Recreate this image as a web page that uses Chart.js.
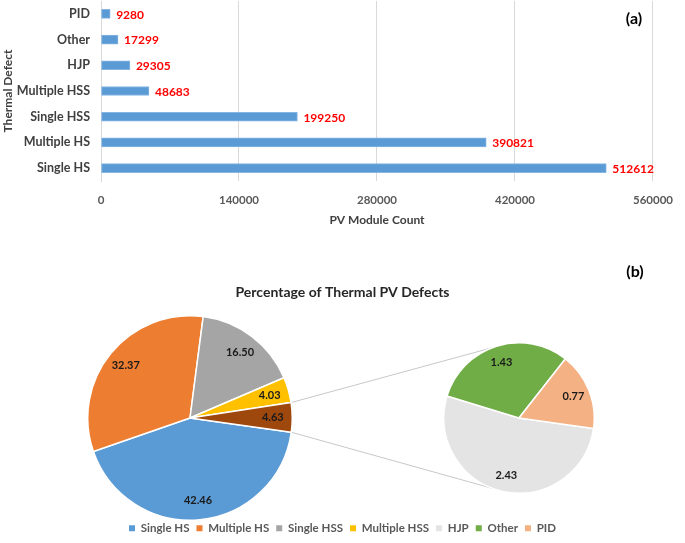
<!DOCTYPE html>
<html>
<head>
<meta charset="utf-8">
<script src="https://cdn.jsdelivr.net/npm/chart.js@4/dist/chart.umd.min.js"></script>
<style>
    html, body { margin: 0; padding: 0; background: #fff; width: 685px; height: 543px; overflow: hidden; }
    canvas { position: absolute; }
    .tag { position: absolute; font: bold 16px Lato, sans-serif; color: #000; transform: translate(-50%, -50%); }
</style>
</head>
<body>
<canvas id="barChart" width="685" height="235" style="left:0;top:0"></canvas>
<canvas id="frameChart" width="685" height="309" style="left:0;top:235px"></canvas>
<canvas id="mainPie" width="206" height="206" style="left:87px;top:315px"></canvas>
<canvas id="subPie" width="152" height="152" style="left:443px;top:342px"></canvas>
<div class="tag" style="left:634px;top:17px">(a)</div>
<div class="tag" style="left:635px;top:270px">(b)</div>

<script>
// Daten aus der Abbildung
const defects = ['Single HS', 'Multiple HS', 'Single HSS', 'Multiple HSS', 'HJP', 'Other', 'PID'];
const moduleCounts = [512612, 390821, 199250, 48683, 29305, 17299, 9280];
const percentShares = [42.46, 32.37, 16.50, 4.03, 2.43, 1.43, 0.77];
const countTicks = [0, 140000, 280000, 420000, 560000];

// Farben
const sliceColors = ['#5B9BD5', '#ED7D31', '#A5A5A5', '#FFC000', '#E4E4E4', '#70AD47', '#F4B183'];
const groupColor = '#9E480E';

const FONT = 'Lato';

// Werte rechts neben den Balken
const barValueLabels = {
    id: 'barValueLabels',
    afterDatasetsDraw(chart) {
        const ctx = chart.ctx;
        const meta = chart.getDatasetMeta(0);
        ctx.save();
        ctx.font = 'bold 12px ' + FONT;
        ctx.fillStyle = '#FF0000';
        ctx.textAlign = 'left';
        ctx.textBaseline = 'middle';
        meta.data.forEach((bar, i) => {
            ctx.fillText(String(moduleCounts[i]), bar.x + 6, bar.y + 1);
        });
        ctx.restore();
    }
};

// Werte in den Tortenstücken
const sliceValueLabels = {
    id: 'sliceValueLabels',
    afterDatasetsDraw(chart, args, opts) {
        const ctx = chart.ctx;
        const meta = chart.getDatasetMeta(0);
        const values = chart.data.datasets[0].data;
        ctx.save();
        ctx.font = 'bold 11px ' + FONT;
        ctx.fillStyle = '#1a1a1a';
        ctx.textAlign = 'center';
        ctx.textBaseline = 'middle';
        meta.data.forEach((arc, i) => {
            const mid = (arc.startAngle + arc.endAngle) / 2;
            const r = arc.outerRadius * opts.ratio;
            ctx.fillText(values[i].toFixed(2), arc.x + r * Math.cos(mid), arc.y + r * Math.sin(mid));
        });
        ctx.restore();
    }
};

// (a) Balkendiagramm
new Chart(document.getElementById('barChart'), {
    type: 'bar',
    data: {
        labels: defects,
        datasets: [{
            data: moduleCounts,
            backgroundColor: '#5B9BD5',
            borderColor: '#86B5E2',
            borderWidth: 1,
            borderSkipped: false,
            barThickness: 9
        }]
    },
    options: {
        indexAxis: 'y',
        responsive: false,
        animation: false,
        layout: { padding: { top: 1, right: 21, left: 0, bottom: 0 } },
        plugins: { legend: { display: false }, tooltip: { enabled: false } },
        scales: {
            x: {
                min: 0,
                max: 560000,
                afterBuildTicks: s => { s.ticks = countTicks.map(v => ({ value: v })); },
                afterFit: s => { s.height = 54; },
                grid: { color: '#D9D9D9', drawTicks: false },
                border: { display: false },
                ticks: {
                    padding: 12,
                    maxRotation: 0,
                    autoSkip: false,
                    color: '#595959',
                    font: { family: FONT, weight: 'bold', size: 11.5 },
                    callback: v => String(v)
                },
                title: {
                    display: true,
                    text: 'PV Module Count',
                    color: '#404040',
                    font: { family: FONT, weight: 'bold', size: 12 },
                    padding: { top: 0, bottom: 8 }
                }
            },
            y: {
                reverse: true,
                afterFit: s => { s.width = 101; s.paddingTop = 0; s.paddingBottom = 0; },
                grid: { display: false, drawTicks: false },
                border: { display: true, color: '#D9D9D9' },
                ticks: {
                    padding: 11,
                    color: '#404040',
                    font: { family: FONT, weight: 'bold', size: 12.5 }
                },
                title: {
                    display: true,
                    text: 'Thermal Defect',
                    color: '#404040',
                    font: { family: FONT, weight: 'bold', size: 12 },
                    padding: { top: 1, bottom: 0 }
                }
            }
        }
    },
    plugins: [barValueLabels]
});

// (b) Hauptkreis: die drei kleinsten Gruppen werden zusammengefasst
const minorShares = percentShares.slice(4);
const groupShare = minorShares.reduce((a, b) => a + b, 0);

const mainPie = new Chart(document.getElementById('mainPie'), {
    type: 'pie',
    data: {
        labels: defects.slice(0, 4).concat('HJP + Other + PID'),
        datasets: [{
            data: percentShares.slice(0, 4).concat(groupShare),
            backgroundColor: sliceColors.slice(0, 4).concat(groupColor),
            borderColor: '#fff',
            borderWidth: 1.5
        }]
    },
    options: {
        responsive: false,
        animation: false,
        rotation: 98,
        layout: { padding: 0 },
        plugins: { legend: { display: false }, tooltip: { enabled: false }, sliceValueLabels: { ratio: 0.81 } }
    },
    plugins: [sliceValueLabels]
});

// Nebenkreis
const subPie = new Chart(document.getElementById('subPie'), {
    type: 'pie',
    data: {
        labels: defects.slice(4),
        datasets: [{
            data: minorShares,
            backgroundColor: sliceColors.slice(4),
            borderColor: '#fff',
            borderWidth: 1.5
        }]
    },
    options: {
        responsive: false,
        animation: false,
        rotation: 98,
        layout: { padding: 0 },
        plugins: { legend: { display: false }, tooltip: { enabled: false }, sliceValueLabels: { ratio: 0.78 } }
    },
    plugins: [sliceValueLabels]
});

// Verbindungslinien zwischen den beiden Kreisen
const connectorLines = {
    id: 'connectorLines',
    afterDraw(chart) {
        const ctx = chart.ctx;
        const frame = chart.canvas.getBoundingClientRect();
        const mainBox = mainPie.canvas.getBoundingClientRect();
        const subBox = subPie.canvas.getBoundingClientRect();
        const group = mainPie.getDatasetMeta(0).data[4];
        const sub = subPie.getDatasetMeta(0).data[0];
        const endAngle = 111 * Math.PI / 180;
        const pairs = [
            [group.startAngle, -endAngle],
            [group.endAngle, endAngle]
        ];
        ctx.save();
        ctx.strokeStyle = '#C8C8C8';
        ctx.lineWidth = 1;
        pairs.forEach(([a, b]) => {
            const x1 = mainBox.left - frame.left + group.x + group.outerRadius * Math.cos(a);
            const y1 = mainBox.top - frame.top + group.y + group.outerRadius * Math.sin(a);
            const x2 = subBox.left - frame.left + sub.x + sub.outerRadius * Math.cos(b);
            const y2 = subBox.top - frame.top + sub.y + sub.outerRadius * Math.sin(b);
            ctx.beginPath();
            ctx.moveTo(x1, y1);
            ctx.lineTo(x2, y2);
            ctx.stroke();
        });
        ctx.restore();
    }
};

// Rahmen mit Titel und Legende
new Chart(document.getElementById('frameChart'), {
    type: 'pie',
    data: { labels: defects, datasets: [{ data: [] }] },
    options: {
        responsive: false,
        animation: false,
        layout: { padding: 0 },
        plugins: {
            tooltip: { enabled: false },
            title: {
                display: true,
                text: 'Percentage of Thermal PV Defects',
                color: '#262626',
                font: { family: FONT, weight: 'bold', size: 14 },
                padding: { top: 49, bottom: 0 }
            },
            legend: {
                position: 'bottom',
                labels: {
                    boxWidth: 6,
                    boxHeight: 6,
                    padding: 7,
                    color: '#595959',
                    font: { family: FONT, weight: 'bold', size: 11.5 },
                    generateLabels: () => defects.map((name, i) => ({
                        text: name,
                        fillStyle: sliceColors[i],
                        strokeStyle: sliceColors[i],
                        lineWidth: 0,
                        fontColor: '#595959',
                        hidden: false,
                        index: i
                    }))
                }
            }
        }
    },
    plugins: [connectorLines]
});
</script>
</body>
</html>
